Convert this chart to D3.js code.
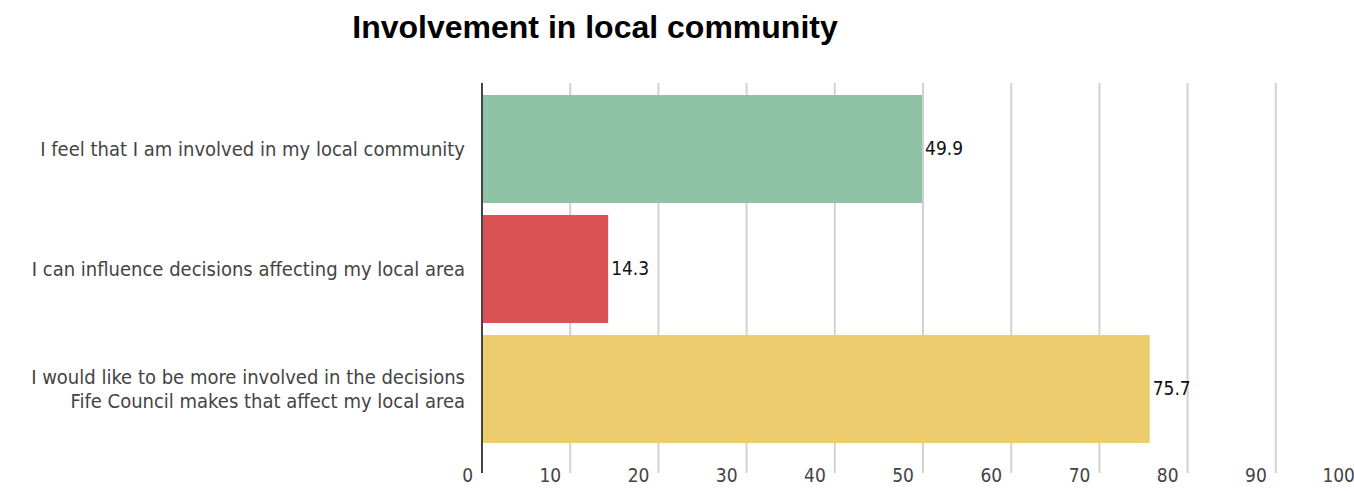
<!DOCTYPE html>
<html>
<head>
<meta charset="utf-8">
<script src="https://cdn.jsdelivr.net/npm/d3@7"></script>
<style>
  html, body { margin: 0; padding: 0; background: #fff; }
  svg { display: block; }
</style>
</head>
<body>
<svg id="chart" width="1354" height="491"></svg>
<script>
const title = "Involvement in local community";
const categories = [
  ["I feel that I am involved in my local community"],
  ["I can influence decisions affecting my local area"],
  ["I would like to be more involved in the decisions", "Fife Council makes that affect my local area"]
];
const values = [49.9, 14.3, 75.7];
const barColors = ["#8fc3a7", "#da5254", "#eecb6c"];
const tickValues = [0, 10, 20, 30, 40, 50, 60, 70, 80, 90, 100];

const svg = d3.select("#chart");
const labelFont = "'DejaVu Sans Condensed', 'Roboto Condensed', sans-serif";

const x = d3.scaleLinear().domain([0, 100]).range([482, 1364]);
const y = d3.scaleBand().domain(d3.range(values.length)).range([89, 449]).paddingInner(0.1).paddingOuter(0.05);

svg.append("text")
  .attr("x", 595).attr("y", 38)
  .attr("text-anchor", "middle")
  .style("font-family", "'Liberation Sans', Arial, sans-serif")
  .style("font-weight", "bold")
  .style("font-size", "32px")
  .attr("fill", "#000")
  .text(title);

// gridlines
svg.append("g").selectAll("line")
  .data(tickValues.filter(d => d > 0))
  .join("line")
  .attr("x1", d => x(d)).attr("x2", d => x(d))
  .attr("y1", 83).attr("y2", 473)
  .attr("stroke", "#d2d2d2").attr("stroke-width", 2);

// bars
svg.append("g").selectAll("rect")
  .data(values)
  .join("rect")
  .attr("x", x(0))
  .attr("y", (d, i) => y(i))
  .attr("width", d => x(d) - x(0))
  .attr("height", y.bandwidth())
  .attr("fill", (d, i) => barColors[i]);

// axis line
svg.append("line")
  .attr("x1", x(0)).attr("x2", x(0))
  .attr("y1", 83).attr("y2", 473)
  .attr("stroke", "#444").attr("stroke-width", 2);

// tick labels (right-aligned just left of each gridline)
svg.append("g").selectAll("text")
  .data(tickValues)
  .join("text")
  .attr("x", d => x(d) - 9)
  .attr("y", 482)
  .attr("text-anchor", "end")
  .style("font-family", labelFont)
  .style("font-size", "19px")
  .attr("fill", "#444")
  .text(d => d);

// category labels
const cat = svg.append("g").selectAll("text")
  .data(categories)
  .join("text")
  .attr("text-anchor", "end")
  .style("font-family", labelFont)
  .style("font-size", "20px")
  .attr("fill", "#444")
  .attr("y", (d, i) => y(i) + y.bandwidth() / 2);
cat.selectAll("tspan")
  .data(d => d.map((t, j) => ({t, j, n: d.length})))
  .join("tspan")
  .attr("x", 465)
  .attr("dy", (d) => d.j === 0 ? ((-(d.n - 1) * 24) / 2 + 7) + "px" : "24px")
  .text(d => d.t);

// value labels
svg.append("g").selectAll("text")
  .data(values)
  .join("text")
  .attr("x", d => x(d) + 3)
  .attr("y", (d, i) => y(i) + y.bandwidth() / 2 + 6)
  .style("font-family", labelFont)
  .style("font-size", "19px")
  .attr("fill", "#111")
  .text(d => d.toFixed(1));
</script>
</body>
</html>
